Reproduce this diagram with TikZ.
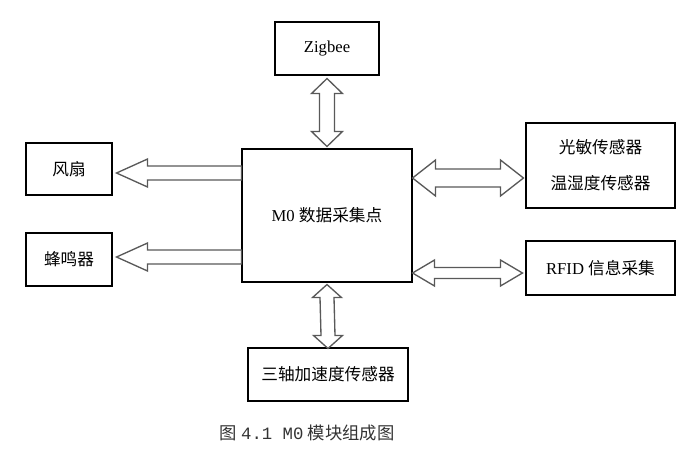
\documentclass[tikz,border=0pt]{standalone}
\usepackage{fontspec}
\usetikzlibrary{calc}
\setmainfont{Liberation Serif}
\setmonofont{Liberation Mono}
\newfontfamily\cjk{Noto Sans CJK SC}
\tikzset{
  box/.style={draw, line width=0.8pt, inner sep=0pt, align=center,
              font=\fontsize{12.5pt}{27pt}\selectfont},
  blockarrow/.style={draw=black!65, line width=1pt, fill=white, line join=miter},
}
% double block arrow, vertical: top tip, bottom tip, head length, head half, shaft half
\newcommand{\vdarrow}[5]{%
  \draw[blockarrow] (#1) -- ($(#1)+(#4,#3)$) -- ($(#1)+(#5,#3)$) -- ($(#2)+(#5,-#3)$)
    -- ($(#2)+(#4,-#3)$) -- (#2) -- ($(#2)+(-#4,-#3)$) -- ($(#2)+(-#5,-#3)$)
    -- ($(#1)+(-#5,#3)$) -- ($(#1)+(-#4,#3)$) -- cycle;}
% double block arrow, horizontal: left tip, right tip, head length, head half, shaft half
\newcommand{\hdarrow}[5]{%
  \draw[blockarrow] (#1) -- ($(#1)+(#3,-#4)$) -- ($(#1)+(#3,-#5)$) -- ($(#2)+(-#3,-#5)$)
    -- ($(#2)+(-#3,-#4)$) -- (#2) -- ($(#2)+(-#3,#4)$) -- ($(#2)+(-#3,#5)$)
    -- ($(#1)+(#3,#5)$) -- ($(#1)+(#3,#4)$) -- cycle;}
% single block arrow pointing left: tip, tail, head length, head half, shaft half
\newcommand{\larrow}[5]{%
  \draw[blockarrow] (#1) -- ($(#1)+(#3,-#4)$) -- ($(#1)+(#3,-#5)$) -- ($(#2)+(0,-#5)$)
    -- ($(#2)+(0,#5)$) -- ($(#1)+(#3,#5)$) -- ($(#1)+(#3,#4)$) -- cycle;}

\begin{document}
\begin{tikzpicture}[x=0.75pt, y=-0.75pt]
  \useasboundingbox (0,0) rectangle (692,451);

  \node[box, minimum width=78pt, minimum height=39.75pt] (zig) at (327,48.5) {Zigbee};
  \node[box, minimum width=127.5pt, minimum height=99.75pt] (m0) at (327,215.5) {M0 {\cjk 数据采集点}};
  \node[box, minimum width=64.5pt, minimum height=39pt] (fan) at (69,169) {\cjk 风扇};
  \node[box, minimum width=64.5pt, minimum height=39.75pt] (buzz) at (69,259.5) {\cjk 蜂鸣器};
  \node[box, minimum width=111.75pt, minimum height=63.75pt] (sens) at (600.5,165.5)
       {\cjk 光敏传感器\\\cjk 温湿度传感器};
  \node[box, minimum width=111.75pt, minimum height=40.5pt] (rfid) at (600.5,268) {RFID {\cjk 信息采集}};
  \node[box, minimum width=120pt, minimum height=39.75pt] (acc) at (328,374.5) {\cjk 三轴加速度传感器};

  \node[font=\fontsize{13pt}{15pt}\selectfont, text=black!80] (cap) at (307,433)
       {{\cjk 图}\ \texttt{4.1 M0}\ {\cjk 模块组成图}};

  % connectors
  \coordinate (zt) at ($(zig.south)+(0,3)$);
  \coordinate (zb) at ($(m0.north)+(0,-2)$);
  \vdarrow{zt}{zb}{15}{15.5}{7.5}

  \coordinate (at) at ($(m0.south)+(0,2)$);
  \coordinate (ab) at ($(acc.north)+(0,1)$);
  \vdarrow{at}{ab}{13}{14.5}{7}

  \coordinate (ft) at ($(fan.east |- 0,173)+(4,0)$);
  \coordinate (fs) at (m0.west |- 0,173);
  \larrow{ft}{fs}{31}{14}{7}

  \coordinate (bt) at ($(buzz.east |- 0,257)+(4,0)$);
  \coordinate (bs) at (m0.west |- 0,257);
  \larrow{bt}{bs}{31}{14}{7}

  \coordinate (sl) at (m0.east |- 0,178);
  \coordinate (sr) at ($(sens.west |- 0,178)+(-2,0)$);
  \hdarrow{sl}{sr}{23}{18}{9}

  \coordinate (rl) at (m0.east |- 0,273);
  \coordinate (rr) at ($(rfid.west |- 0,273)+(-3,0)$);
  \hdarrow{rl}{rr}{22}{13}{5.5}
\end{tikzpicture}
\end{document}
